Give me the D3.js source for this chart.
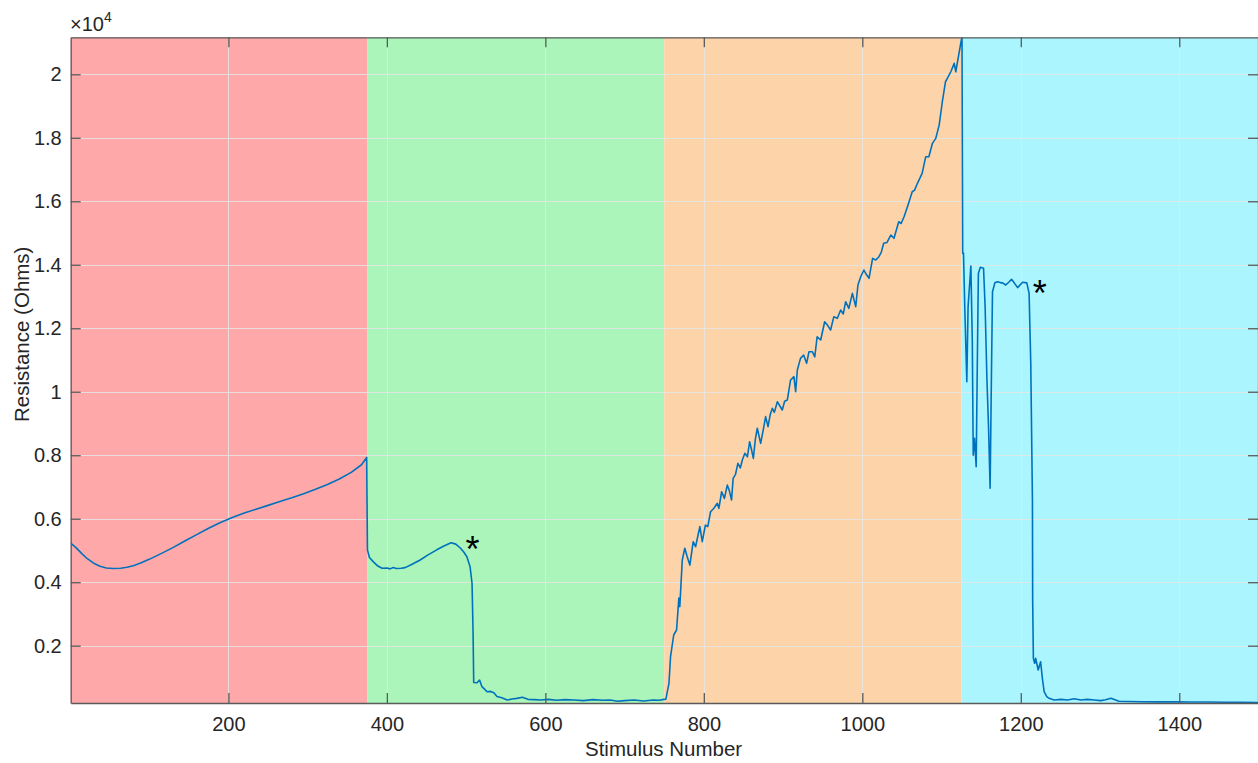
<!DOCTYPE html>
<html>
<head>
<meta charset="utf-8">
<script src="https://cdn.jsdelivr.net/npm/d3@7"></script>
<style>
  body { margin: 0; background: #fff; }
  svg { display: block; font-family: "Liberation Sans", Arial, sans-serif; }
</style>
</head>
<body>
<svg id="area" width="1258" height="763"></svg>
<script>
// stimulus numbers and resistance (Ohms)
const stimulus = [
  1, 8, 15, 22, 30, 38, 46, 55, 64, 72, 80, 90, 100, 115, 130, 145, 160, 175, 190, 205, 220, 235, 250, 265, 280, 295, 310, 325, 340, 355, 368, 374.5,
  375.5, 378, 383, 388, 394, 400, 404, 408, 412, 418, 423, 430, 442, 452, 463, 472, 481, 487, 493, 497, 501, 505, 507.5, 508.8, 509.6, 513.8, 517, 520, 523, 526.5, 531, 535, 539, 545, 552, 558, 564, 571, 578, 586, 594, 604, 614, 625, 636, 648, 660, 672, 682, 691, 700, 712, 724, 736, 744, 749.5,
  752, 756, 758, 762, 765.6, 768.5, 769.7, 772.8, 776, 779, 782.4, 786.6, 789.6, 792, 795, 798, 802, 805, 808.5, 812.7, 817, 819, 822.5, 826, 829.6, 832, 835, 837, 840, 843, 846, 848.6, 851.8, 855, 857.8, 860, 862.5, 865, 867.5, 871.7, 875, 878, 881, 884, 886.5, 889, 892.8, 896, 899, 902, 905.4,
  909.5, 913.7, 915.9, 918, 922, 926, 929.7, 932.7, 937, 940, 943, 947.5, 952.5, 956, 960, 964, 968.5, 972.7, 976, 979, 983, 987.5, 991.7, 994.5, 998, 1002, 1005, 1008.5, 1013, 1017, 1021, 1024, 1027, 1031, 1036, 1040, 1046, 1049, 1052.7, 1057, 1063, 1066, 1069.6, 1075.5, 1080, 1084, 1088.5, 1092.7, 1097, 1101, 1105, 1108, 1111.7, 1116, 1118, 1122, 1125, 1125.8,
  1126.7, 1127.7, 1129.3, 1131.9, 1133.5, 1137, 1138.8, 1140, 1141.6, 1143.7, 1145, 1146.5, 1149, 1153, 1155, 1157.3, 1159.3, 1161.3, 1163, 1164.3, 1167.3, 1170.7, 1175, 1177, 1181, 1185.4, 1188.3, 1191.7, 1196, 1202.2, 1207.6, 1210.5, 1212.6, 1214.7, 1215, 1215.9, 1217.5, 1218.8, 1222, 1225, 1227.5, 1229.5, 1232.8, 1235.8, 1242, 1250.6, 1259, 1267.4, 1275.8, 1284, 1292.7, 1301, 1307, 1313.7, 1324, 1338, 1351.5, 1372, 1393.7, 1415, 1436, 1458, 1478, 1500
];
const resistance = [
  5230, 5080, 4900, 4740, 4600, 4500, 4450, 4430, 4440, 4470, 4520, 4610, 4720, 4900, 5090, 5300, 5500, 5700, 5880, 6040, 6180, 6300, 6420, 6540, 6660, 6790, 6930, 7080, 7250, 7460, 7700, 7930,
  5020, 4780, 4640, 4520, 4440, 4450, 4420, 4460, 4430, 4440, 4460, 4540, 4700, 4860, 5020, 5140, 5245, 5200, 5070, 4950, 4800, 4490, 3960, 2390, 840, 835, 920, 710, 640, 550, 560, 520, 400, 360, 290, 320, 340, 375, 310, 300, 290, 310, 280, 300, 290, 270, 300, 280, 290, 250, 270, 290, 260, 290, 280, 310,
  312, 816, 1654, 2337, 2494, 3500, 3230, 4700, 5070, 4800, 4540, 5276, 5118, 5400, 5750, 5276, 5800, 5750, 6220, 6328, 6485, 6328, 6850, 6640, 7060, 6900, 6590, 7270, 7400, 7745, 7600, 7850, 8060, 7950, 8426, 8200, 7900, 8500, 8850, 8375, 8800, 9215, 8900, 9300, 9480, 9350, 9686, 9550, 9425, 9700, 9740,
  10370, 10474, 10000, 10684, 11050, 11157, 10896, 11260, 11260, 11100, 11733, 11630, 12206, 12100, 11945, 12360, 12313, 12575, 12450, 12836, 12628, 13100, 12680, 13362, 13623, 13834, 13700, 13573, 14200, 14150, 14254, 14400, 14675, 14700, 14937, 14833, 15356, 15300, 15514, 15830, 16300, 16350, 16566, 16880, 17400, 17400, 17825, 17980, 18400, 19135, 19765, 19900, 20080, 20345, 20080, 20660, 21080, 21160,
  14360, 14370, 12680, 10316, 12680, 13960, 11630, 8000, 8533, 7640, 10580, 13730, 13920, 13890, 12680, 10370, 8900, 6960, 10580, 13150, 13430, 13466, 13430, 13430, 13362, 13466, 13540, 13430, 13280, 13447, 13430, 13100, 10900, 6590, 3440, 1603, 1446, 1603, 1235, 1496, 920, 551, 394, 343, 290, 310, 290, 330, 290, 310, 290, 270, 300, 343, 250, 240, 235, 230, 235, 225, 225, 220, 215, 210
];

// coloured stimulus blocks
const blockStart = [1, 375, 750, 1125];
const blockEnd = [375, 750, 1125, 1500];
const blockColor = ["#ffa8aa", "#abf5ba", "#fdd4aa", "#abf5fe"];

// asterisk markers (centre of the glyph)
const starX = [508, 1224];
const starY = [5330, 13390];

const xTicks = [200, 400, 600, 800, 1000, 1200, 1400];
const yTicks = [2000, 4000, 6000, 8000, 10000, 12000, 14000, 16000, 18000, 20000];
const yTickLabels = ["0.2", "0.4", "0.6", "0.8", "1", "1.2", "1.4", "1.6", "1.8", "2"];

const mLeft = 70.7, mRight = 1258.5, mTop = 37.3, mBottom = 703;

const svg = d3.select("#area");
const x = d3.scaleLinear().domain([1, 1500]).range([mLeft, mRight]);
const y = d3.scaleLinear().domain([195, 21165]).range([mBottom, mTop]);

svg.append("defs").append("clipPath").attr("id", "plotclip")
  .append("rect").attr("x", mLeft).attr("y", mTop).attr("width", mRight - mLeft).attr("height", mBottom - mTop);

// background blocks
svg.append("g").selectAll("rect")
  .data(blockStart)
  .join("rect")
  .attr("x", (d) => x(d))
  .attr("y", mTop)
  .attr("width", (d, i) => x(blockEnd[i]) - x(d))
  .attr("height", mBottom - mTop)
  .attr("fill", (d, i) => blockColor[i]);

// grid
const grid = svg.append("g").attr("stroke", "#e6e6e6").attr("stroke-width", 1).attr("opacity", 0.85);
grid.selectAll("line.gx").data(xTicks).join("line")
  .attr("class", "gx")
  .attr("x1", (d) => Math.round(x(d)) + 0.5).attr("x2", (d) => Math.round(x(d)) + 0.5)
  .attr("y1", mTop).attr("y2", mBottom);
grid.selectAll("line.gy").data(yTicks).join("line")
  .attr("class", "gy")
  .attr("y1", (d) => Math.round(y(d)) + 0.5).attr("y2", (d) => Math.round(y(d)) + 0.5)
  .attr("x1", mLeft).attr("x2", mRight);

// trace
const line = d3.line()
  .x((d, i) => x(stimulus[i]))
  .y((d) => y(d));
svg.append("path")
  .datum(resistance)
  .attr("clip-path", "url(#plotclip)")
  .attr("d", line)
  .attr("fill", "none")
  .attr("stroke", "#0072bd")
  .attr("stroke-width", 1.6)
  .attr("stroke-linejoin", "round");

// asterisks
svg.append("g").selectAll("text")
  .data(starX)
  .join("text")
  .attr("x", (d) => x(d))
  .attr("y", (d, i) => y(starY[i]))
  .attr("dy", "0.6em")
  .attr("text-anchor", "middle")
  .attr("font-size", 36)
  .attr("fill", "#000")
  .text("*");

// axes, ticks inward
const axisColor = "#5a5a5a";
const xAxis = d3.axisBottom(x).tickValues(xTicks).tickSizeInner(-10).tickSizeOuter(0).tickPadding(14)
  .tickFormat(d3.format("d"));
const gx = svg.append("g").attr("transform", "translate(0," + mBottom + ")").call(xAxis);
const xTopAxis = d3.axisTop(x).tickValues(xTicks).tickSizeInner(-10).tickSizeOuter(0).tickFormat("");
const gxt = svg.append("g").attr("transform", "translate(0," + mTop + ")").call(xTopAxis);
const yAxis = d3.axisLeft(y).tickValues(yTicks).tickSizeInner(-10).tickSizeOuter(0).tickPadding(9)
  .tickFormat((d, i) => yTickLabels[i]);
const gy = svg.append("g").attr("transform", "translate(" + mLeft + ",0)").call(yAxis);
const yRight = d3.axisRight(y).tickValues(yTicks).tickSizeInner(-10).tickSizeOuter(0).tickFormat("");
const gyr = svg.append("g").attr("transform", "translate(" + (mRight - 0.5) + ",0)").call(yRight);

[gx, gxt, gy, gyr].forEach((g) => {
  g.select(".domain").attr("stroke", axisColor).attr("stroke-width", 1.3);
  g.selectAll(".tick line").attr("stroke", axisColor).attr("stroke-width", 1.3);
  g.selectAll(".tick text").attr("fill", "#262626").attr("font-size", 20).attr("font-family", "Liberation Sans, Arial, sans-serif");
});

// exponent label
const expo = svg.append("text")
  .attr("x", 70)
  .attr("y", 31)
  .attr("font-size", 20)
  .attr("fill", "#262626");
expo.append("tspan").text("\u00d710");
expo.append("tspan").attr("dy", -9).attr("font-size", 14).text("4");

// axis titles
svg.append("text")
  .attr("x", (mLeft + mRight) / 2 - 1)
  .attr("y", 756)
  .attr("text-anchor", "middle")
  .attr("font-size", 20.5)
  .attr("fill", "#262626")
  .text("Stimulus Number");
svg.append("text")
  .attr("transform", "translate(28.5,422) rotate(-90)")
  .attr("text-anchor", "start")
  .attr("font-size", 20.5)
  .attr("fill", "#262626")
  .text("Resistance (Ohms)");
</script>
</body>
</html>
